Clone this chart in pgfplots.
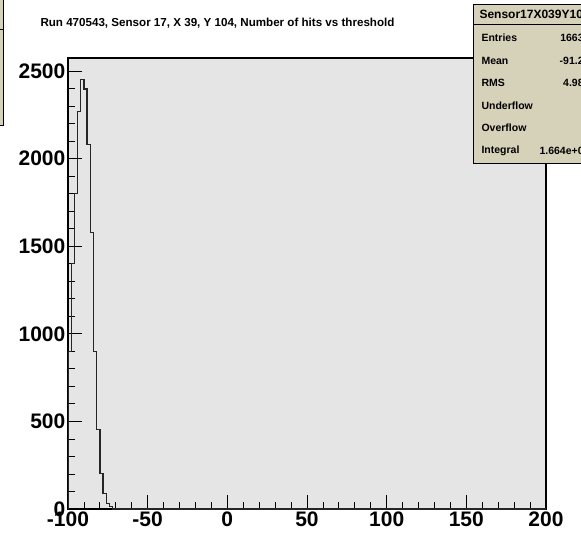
\documentclass[border=0pt]{standalone}
\usepackage{pgfplots}
\pgfplotsset{compat=1.18}
\usepackage{fontspec}
\setmainfont{Liberation Sans}
\definecolor{bggray}{RGB}{229,229,229}
\definecolor{statfill}{RGB}{214,209,185}
\begin{document}
\begin{tikzpicture}[x=1pt,y=1pt]
\useasboundingbox (0,0) rectangle (581,536);
\clip (0,0) rectangle (581,536);
\fill[white] (0,0) rectangle (581,536);
\begin{axis}[
  scale only axis, width=478pt, height=451pt,
  at={(68pt,27pt)}, anchor=south west,
  xmin=-100, xmax=200, ymin=0, ymax=2574,
  axis background/.style={fill=bggray},
  xtick={-100,-50,...,200}, minor x tick num=4,
  ytick={0,500,...,2500}, minor y tick num=4,
  tick pos=left, tick align=inside,
  major tick length=14pt, minor tick length=7pt,
  tick style={black, line width=0.8pt},
  axis line style={black, line width=1.2pt},
  ticklabel style={font=\bfseries\fontsize{21}{21}\selectfont},
  yticklabel style={inner sep=2.5pt},
  xticklabel style={inner sep=3pt},
  /pgf/number format/assume math mode=true,
  /pgf/number format/1000 sep={},
  scaled ticks=false,
]
\addplot[const plot mark left, black!85, line width=1.3pt] coordinates {
(-100,0) (-100,898) (-98,1402) (-96,1802) (-94,2268) (-92,2452) (-90,2397)
(-88,2081) (-86,1579) (-84,898) (-82,455) (-80,204) (-78,90) (-76,33)
(-74,13) (-72,0) (200,0)};
\end{axis}
\node[font=\bfseries\fontsize{11.6}{12}\selectfont] at (217.5,513) {Run 470543, Sensor 17, X 39, Y 104, Number of hits vs threshold};
% stats box
\filldraw[fill=statfill, draw=black, line width=0.8pt] (473,373) rectangle (620,532);
\draw[black, line width=0.6pt] (473,512) -- (620,512);
\node[anchor=west, font=\bfseries\fontsize{12}{12}\selectfont] at (476,522) {Sensor17X039Y104};
\begin{scope}[every node/.style={font=\bfseries\fontsize{10.5}{11}\selectfont}]
\node[anchor=west] at (478,498) {Entries};
\node[anchor=west] at (478,475) {Mean};
\node[anchor=west] at (478,453) {RMS};
\node[anchor=west] at (478,430) {Underflow};
\node[anchor=west] at (478,408) {Overflow};
\node[anchor=west] at (478,385) {Integral};
\node[anchor=east] at (593,498) {16637};
\node[anchor=east] at (593,475) {-91.28};
\node[anchor=east] at (593,453) {4.985};
\node[anchor=east] at (593,430) {0};
\node[anchor=east] at (593,408) {0};
\node[anchor=east] at (593,385) {1.664e+04};
\end{scope}
% left strip of neighbouring box
\filldraw[fill=statfill, draw=black, line width=0.8pt] (-5,411) rectangle (3,541);
\draw[black, line width=0.6pt] (-5,507) -- (3,507);
\end{tikzpicture}
\end{document}
